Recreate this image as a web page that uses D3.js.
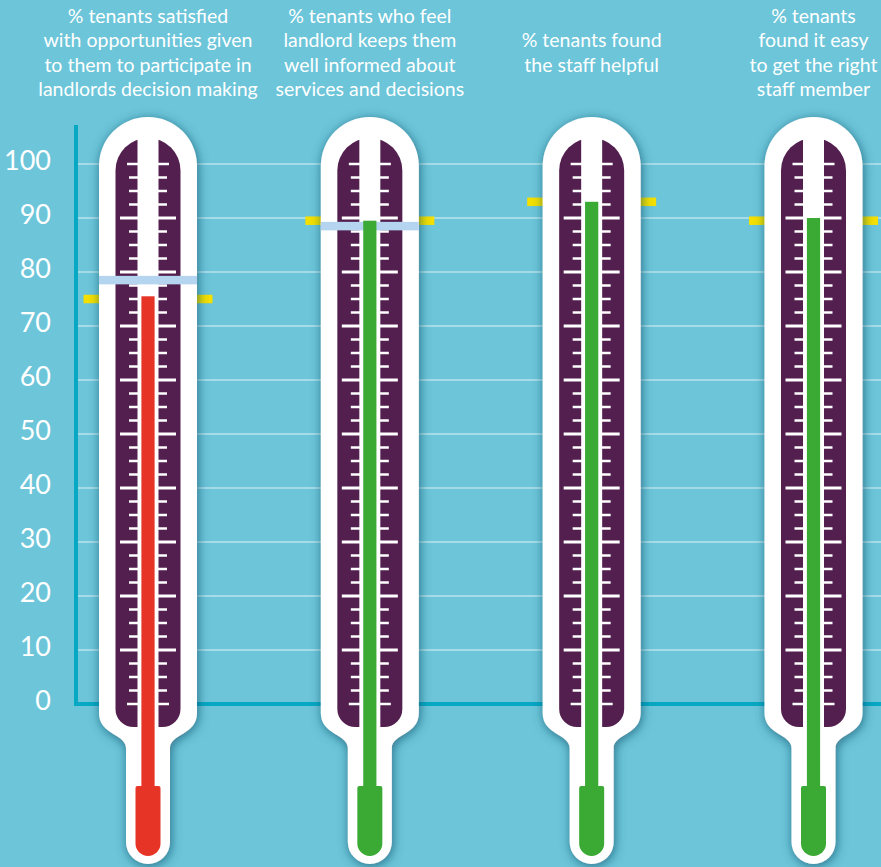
<!DOCTYPE html>
<html>
<head>
<meta charset="utf-8">
<script src="https://cdn.jsdelivr.net/npm/d3@7"></script>
<style>
  html, body { margin: 0; padding: 0; background: #6cc5d9; }
  svg { display: block; }
</style>
</head>
<body>
<div id="chart"></div>
<script>
// Survey measures, one thermometer each
const categories = ["participation", "informed", "helpful", "easy"];
const titles = [
  ["% tenants satisfied", "with opportunities given", "to them to participate in", "landlords decision making"],
  ["% tenants who feel", "landlord keeps them", "well informed about", "services and decisions"],
  ["% tenants found", "the staff helpful"],
  ["% tenants", "found it easy", "to get the right", "staff member"]
];
const values   = [75.5, 89.5, 93, 90];     // current result (fluid level)
const targets  = [75, 89.5, 93, 89.5];     // target (yellow marker)
const previous = [78.5, 88.5, null, null]; // previous result (light blue band)
const fluidColors = ["#e63427", "#3aaa35", "#3aaa35", "#3aaa35"];
const yTicks = [0, 10, 20, 30, 40, 50, 60, 70, 80, 90, 100];

const W = 881, H = 867;
const svg = d3.select("#chart").append("svg").attr("width", W).attr("height", H);

const defs = svg.append("defs");
const shadow = defs.append("filter").attr("id", "shadow")
  .attr("x", "-40%").attr("y", "-10%").attr("width", "180%").attr("height", "120%");
shadow.append("feDropShadow").attr("dx", 1).attr("dy", 2).attr("stdDeviation", 5.5)
  .attr("flood-color", "#0b4a62").attr("flood-opacity", 0.7);

svg.append("rect").attr("width", W).attr("height", H).attr("fill", "#6cc5d9");

const y = d3.scaleLinear().domain([0, 100]).range([704, 164]);
const x = d3.scalePoint().domain(categories).range([148, 813.5]);

const axisX = 76;

// gridlines
svg.append("g").selectAll("line").data(yTicks.filter(d => d > 0)).join("line")
  .attr("x1", axisX).attr("x2", W)
  .attr("y1", d => y(d)).attr("y2", d => y(d))
  .attr("stroke", "#ffffff").attr("stroke-opacity", 0.4).attr("stroke-width", 2);

// axis lines
svg.append("line").attr("x1", axisX).attr("x2", axisX).attr("y1", 125).attr("y2", y(0) + 1)
  .attr("stroke", "#07a8c3").attr("stroke-width", 4);
svg.append("line").attr("x1", axisX - 2).attr("x2", W).attr("y1", y(0)).attr("y2", y(0))
  .attr("stroke", "#07a8c3").attr("stroke-width", 4);

// y labels
const yAxis = d3.axisLeft(y).tickValues(yTicks).tickSize(0).tickPadding(0);
const gy = svg.append("g").attr("transform", "translate(51,-3)").call(yAxis);
gy.select(".domain").remove();
gy.selectAll("text").attr("fill", "#ffffff")
  .attr("font-family", "Lato, 'Open Sans', sans-serif").attr("font-size", 27);

// titles
const tg = svg.append("g").attr("fill", "#ffffff")
  .attr("font-family", "Lato, 'Open Sans', sans-serif").attr("font-size", 19.5)
  .attr("text-anchor", "middle");
titles.forEach((lines, i) => {
  const t = tg.append("text").attr("x", x(categories[i]));
  lines.forEach((ln, j) => {
    t.append("tspan").attr("x", x(categories[i]))
      .attr("y", 59.25 + (j - (lines.length - 1) / 2) * 24.5).text(ln);
  });
});

// thermometer outline path around centre cx
function outerPath(cx) {
  const R = 49, top = 117, sideBottom = 713, stemTop = 748, s = 22, bottom = 864;
  const p = d3.path();
  p.moveTo(cx - R, top + R);
  p.arc(cx, top + R, R, Math.PI, 0);
  p.lineTo(cx + R, sideBottom);
  p.bezierCurveTo(cx + R, sideBottom + 22, cx + s, stemTop - 14, cx + s, stemTop);
  p.lineTo(cx + s, bottom - s);
  p.arc(cx, bottom - s, s, 0, Math.PI);
  p.lineTo(cx - s, stemTop);
  p.bezierCurveTo(cx - s, stemTop - 14, cx - R, sideBottom + 22, cx - R, sideBottom);
  p.closePath();
  return p.toString();
}
function tubePath(cx) {
  const r = 32.5, top = 138, bottom = 727, c = 18;
  const p = d3.path();
  p.moveTo(cx - r, top + r);
  p.arc(cx, top + r, r, Math.PI, 0);
  p.lineTo(cx + r, bottom - c);
  p.arcTo(cx + r, bottom, cx + r - c, bottom, c);
  p.lineTo(cx - r + c, bottom);
  p.arcTo(cx - r, bottom, cx - r, bottom - c, c);
  p.closePath();
  return p.toString();
}
function bulbPath(cx) {
  const h = 12.5, top = 786, bottom = 856;
  const p = d3.path();
  p.moveTo(cx - h, top + 2);
  p.arcTo(cx - h, top, cx - h + 2, top, 2);
  p.lineTo(cx + h - 2, top);
  p.arcTo(cx + h, top, cx + h, top + 2, 2);
  p.lineTo(cx + h, bottom - h);
  p.arc(cx, bottom - h, h, 0, Math.PI);
  p.closePath();
  return p.toString();
}

const scaleTicks = d3.range(0, 100.01, 2.5);
const tickHalf = d => (d === 0 || d === 100) ? 21 : (d % 10 === 0 ? 28 : 19);

categories.forEach((c, i) => {
  const cx = x(c);
  const g = svg.append("g");

  // target marker sits behind the thermometer
  g.append("rect").attr("x", cx - 64.5).attr("width", 129)
    .attr("y", y(targets[i]) - 4.25).attr("height", 8.5).attr("fill", "#f4e000");

  g.append("path").attr("d", outerPath(cx)).attr("fill", "#ffffff").attr("filter", "url(#shadow)");
  g.append("path").attr("d", tubePath(cx)).attr("fill", "#521f4f");
  // central channel
  g.append("rect").attr("x", cx - 10.5).attr("width", 21).attr("y", 136).attr("height", 620).attr("fill", "#ffffff");

  // scale ticks
  g.append("g").selectAll("line").data(scaleTicks).join("line")
    .attr("x1", d => cx - tickHalf(d))
    .attr("x2", d => cx + tickHalf(d))
    .attr("y1", d => y(d)).attr("y2", d => y(d))
    .attr("stroke", "#ffffff")
    .attr("stroke-width", d => (d % 10 === 0 && d !== 0 && d !== 100) ? 3 : 2.5);

  // previous result band
  if (previous[i] !== null) {
    g.append("rect").attr("x", cx - 49).attr("width", 98)
      .attr("y", y(previous[i]) - 4.25).attr("height", 8.5).attr("fill", "#b4d4ef");
  }

  // fluid column and bulb
  g.append("rect").attr("x", cx - 6.6).attr("width", 13.2)
    .attr("y", y(values[i])).attr("height", 800 - y(values[i]))
    .attr("fill", fluidColors[i]);
  g.append("path").attr("d", bulbPath(cx)).attr("fill", fluidColors[i]);
});
</script>
</body>
</html>
